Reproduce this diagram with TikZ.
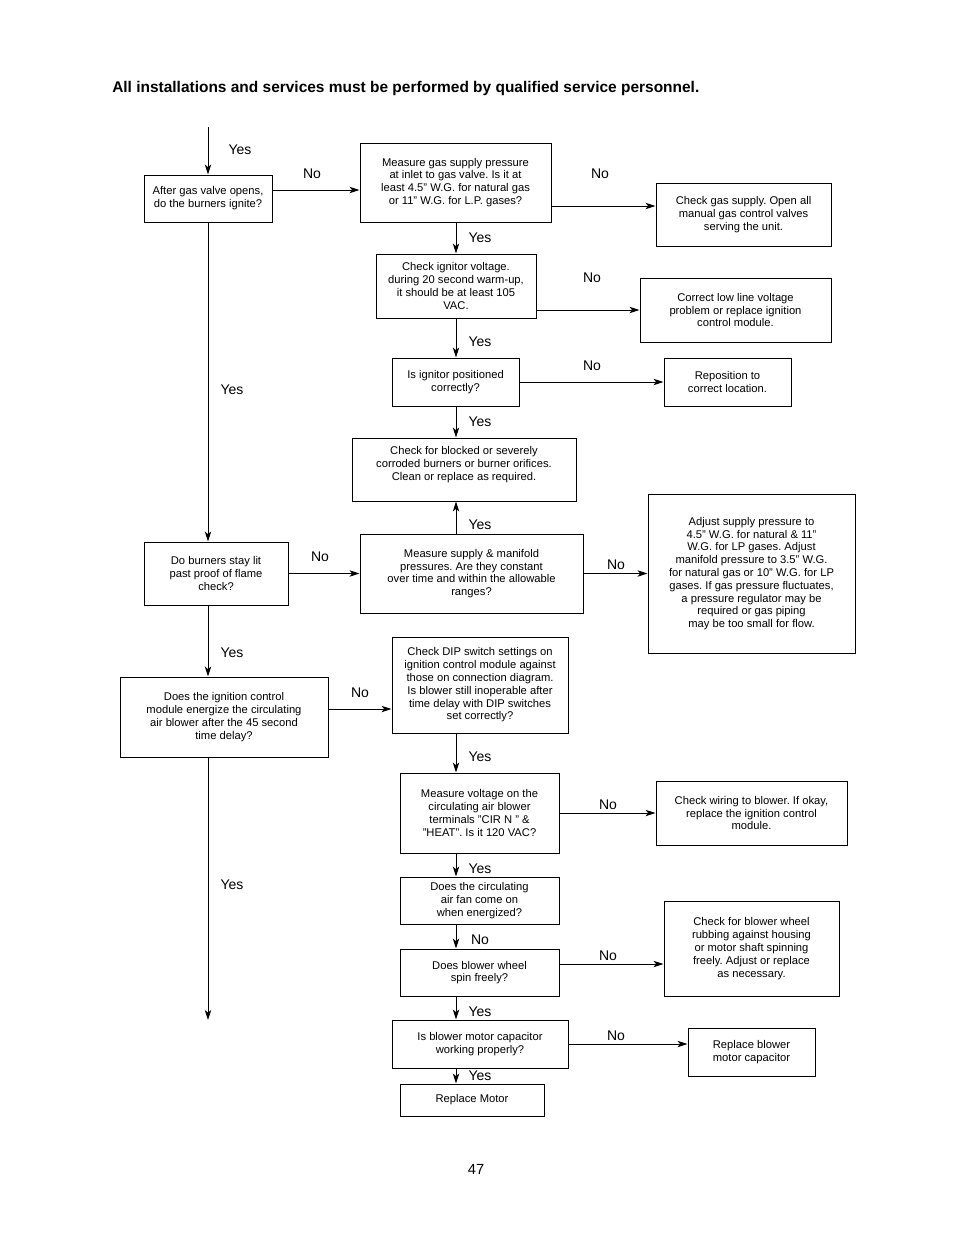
\documentclass[tikz,border=0pt]{standalone}
\usepackage{fontspec}
\setmainfont{Liberation Sans}
\usetikzlibrary{arrows.meta}
\frenchspacing

\tikzset{
  box/.style={draw, line width=0.75pt, align=center, inner sep=0pt, font=\fontsize{8.4}{9.6}\selectfont},
  arr/.style={line width=0.75pt, -{Stealth[length=7.5pt,width=4.8pt,inset=2pt]}},
  lbl/.style={font=\fontsize{10.5}{12}\selectfont, inner sep=0pt},
}

\begin{document}
\begin{tikzpicture}[x=0.75pt,y=-0.75pt]
      \useasboundingbox (0,0) rectangle (954,1235);
      \node[anchor=west, inner sep=0pt, font=\bfseries\fontsize{11.6}{13}\selectfont] (title) at (112,88.5)
        {All installations and services must be performed by qualified service personnel.};

      % boxes
      \node[box, minimum width=96pt, minimum height=35.25pt] (ignite) at (208,198.5)
        {After gas valve opens,\\do the burners ignite?};
      \node[box, minimum width=143.25pt, minimum height=59.25pt] (gas) at (455.5,182.5)
        {Measure gas supply pressure\\at inlet to gas valve. Is it at\\least 4.5" W.G. for natural gas\\or 11" W.G. for L.P. gases?};
      \node[box, minimum width=131.25pt, minimum height=47.25pt] (supply) at (743.5,214.5)
        {Check gas supply. Open all\\manual gas control valves\\serving the unit.};
      \node[box, minimum width=120pt, minimum height=48pt] (volt) at (456,286)
        {Check ignitor voltage.\\during 20 second warm-up,\\it should be at least 105\\VAC.};
      \node[box, minimum width=143.25pt, minimum height=48pt] (lowline) at (735.5,310)
        {Correct low line voltage\\problem or replace ignition\\control module.};
      \node[box, minimum width=95.25pt, minimum height=36pt] (pos) at (455.5,382)
        {Is ignitor positioned\\correctly?};
      \node[box, minimum width=95.25pt, minimum height=36pt] (repos) at (727.5,382)
        {Reposition to\\correct location.};
      \node[box, minimum width=168pt, minimum height=47.25pt, text depth=9pt] (blocked) at (464,469.5)
        {Check for blocked or severely\\corroded burners or burner orifices.\\Clean or replace as required.};
      \node[box, minimum width=167.25pt, minimum height=59.25pt] (manif) at (471.5,573.5)
        {Measure supply \& manifold\\pressures. Are they constant\\over time and within the allowable\\ranges?};
      \node[box, minimum width=155.25pt, minimum height=119.25pt] (adjust) at (751.5,573.5)
        {Adjust supply pressure to\\4.5" W.G. for natural \& 11"\\W.G. for LP gases. Adjust\\manifold pressure to 3.5" W.G.\\for natural gas or 10" W.G. for LP\\gases. If gas pressure fluctuates,\\a pressure regulator may be\\required or gas piping\\may be too small for flow.};
      \node[box, minimum width=108pt, minimum height=47.25pt] (lit) at (216,573.5)
        {Do burners stay lit\\past proof of flame\\check?};
      \node[box, minimum width=156pt, minimum height=60pt] (module) at (224,717)
        {Does the ignition control\\module energize the circulating\\air blower after the 45 second\\time delay?};
      \node[box, minimum width=132pt, minimum height=72pt] (dip) at (480,685)
        {Check DIP switch settings on\\ignition control module against\\those on connection diagram.\\Is blower still inoperable after\\time delay with DIP switches\\set correctly?};
      \node[box, minimum width=119.25pt, minimum height=60pt] (term) at (479.5,813)
        {Measure voltage on the\\circulating air blower\\terminals "CIR N " \&\\"HEAT". Is it 120 VAC?};
      \node[box, minimum width=143.25pt, minimum height=48pt] (wiring) at (751.5,813)
        {Check wiring to blower. If okay,\\replace the ignition control\\module.};
      \node[box, minimum width=119.25pt, minimum height=35.25pt] (fan) at (479.5,900.5)
        {Does the circulating\\air fan come on\\when energized?};
      \node[box, minimum width=119.25pt, minimum height=35.25pt] (wheel) at (479.5,972.5)
        {Does blower wheel\\spin freely?};
      \node[box, minimum width=131.25pt, minimum height=71.25pt] (rub) at (751.5,948.5)
        {Check for blower wheel\\rubbing against housing\\or motor shaft spinning\\freely. Adjust or replace\\as necessary.};
      \node[box, minimum width=132pt, minimum height=36pt] (cap) at (480,1044)
        {Is blower motor capacitor\\working properly?};
      \node[box, minimum width=95.25pt, minimum height=36pt] (newcap) at (751.5,1052)
        {Replace blower\\motor capacitor};
      \node[box, minimum width=108pt, minimum height=24pt] (motor) at (472,1100)
        {Replace Motor};

      % connectors
      \coordinate (start) at (208,127);
      \coordinate (stop) at (208,1020);
      \draw[arr] (start) -- (ignite.north);
      \draw[arr] (ignite.east |- 0,190) -- (gas.west |- 0,190);
      \draw[arr] (gas.east |- 0,206) -- (supply.west |- 0,206);
      \draw[arr] (gas.south -| 456,0) -- (volt.north);
      \draw[arr] (volt.east |- 0,310) -- (lowline.west);
      \draw[arr] (volt.south) -- (pos.north -| 456,0);
      \draw[arr] (pos.east) -- (repos.west);
      \draw[arr] (pos.south -| 456,0) -- (blocked.north -| 456,0);
      \draw[arr] (manif.north -| 456,0) -- (blocked.south -| 456,0);
      \draw[arr] (manif.east) -- (adjust.west);
      \draw[arr] (ignite.south) -- (lit.north -| 208,0);
      \draw[arr] (lit.east) -- (manif.west);
      \draw[arr] (lit.south -| 208,0) -- (module.north -| 208,0);
      \draw[arr] (module.east |- 0,709) -- (dip.west |- 0,709);
      \draw[arr] (dip.south -| 456,0) -- (term.north -| 456,0);
      \draw[arr] (term.east) -- (wiring.west);
      \draw[arr] (term.south -| 456,0) -- (fan.north -| 456,0);
      \draw[arr] (fan.south -| 456,0) -- (wheel.north -| 456,0);
      \draw[arr] (wheel.east |- 0,964) -- (rub.west |- 0,964);
      \draw[arr] (wheel.south -| 456,0) -- (cap.north -| 456,0);
      \draw[arr] (cap.east) -- (newcap.west |- 0,1044);
      \draw[arr] (cap.south -| 456,0) -- (motor.north -| 456,0);
      \draw[arr] (module.south -| 208,0) -- (stop);

      % labels
      \node[lbl] (y1) at (240,150) {Yes};
      \node[lbl] (n1) at (312,174) {No};
      \node[lbl] (n2) at (600,174) {No};
      \node[lbl] (y2) at (480,238) {Yes};
      \node[lbl] (n3) at (592,278) {No};
      \node[lbl] (y3) at (480,342) {Yes};
      \node[lbl] (n4) at (592,366) {No};
      \node[lbl] (y4) at (232,390) {Yes};
      \node[lbl] (y5) at (480,422) {Yes};
      \node[lbl] (y6) at (480,525) {Yes};
      \node[lbl] (n5) at (320,557) {No};
      \node[lbl] (n6) at (616,565) {No};
      \node[lbl] (y7) at (232,653) {Yes};
      \node[lbl] (n7) at (360,693) {No};
      \node[lbl] (y8) at (480,757) {Yes};
      \node[lbl] (n8) at (608,805) {No};
      \node[lbl] (y9) at (480,869) {Yes};
      \node[lbl] (y10) at (232,885) {Yes};
      \node[lbl] (n9) at (480,940) {No};
      \node[lbl] (n10) at (608,956) {No};
      \node[lbl] (y11) at (480,1012) {Yes};
      \node[lbl] (n11) at (616,1036) {No};
      \node[lbl] (y12) at (480,1076) {Yes};

      \node[lbl, font=\fontsize{11}{13}\selectfont] (page) at (476,1169) {47};
\end{tikzpicture}
\end{document}
